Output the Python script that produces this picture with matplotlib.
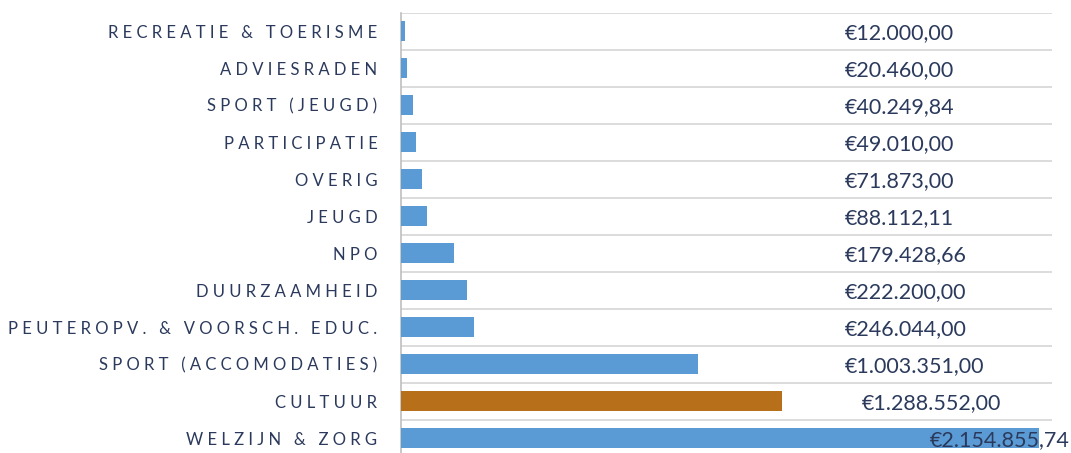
import matplotlib
matplotlib.use("Agg")
import matplotlib.pyplot as plt
from matplotlib.ticker import FixedLocator

categories = ["RECREATIE & TOERISME", "ADVIESRADEN", "SPORT (JEUGD)", "PARTICIPATIE",
              "OVERIG", "JEUGD", "NPO", "DUURZAAMHEID", "PEUTEROPV. & VOORSCH. EDUC.",
              "SPORT (ACCOMODATIES)", "CULTUUR", "WELZIJN & ZORG"]
values = [12000.00, 20460.00, 40249.84, 49010.00, 71873.00, 88112.11, 179428.66,
          222200.00, 246044.00, 1003351.00, 1288552.00, 2154855.74]
value_labels = ["€12.000,00", "€20.460,00", "€40.249,84", "€49.010,00", "€71.873,00",
                "€88.112,11", "€179.428,66", "€222.200,00", "€246.044,00",
                "€1.003.351,00", "€1.288.552,00", "€2.154.855,74"]
highlight = "CULTUUR"

# layout: left x of each value label in data units
label_left = [1.5e6] * 10 + [1.557e6, 1.787e6]

BLUE = "#5B9BD5"
ORANGE = "#B86F19"
NAVY = "#2B3A5C"

def spaced(s):
    words = s.split(" ")
    return "   ".join(" ".join(list(w)) for w in words)

fig = plt.figure(figsize=(10.71, 4.53), dpi=100)
ax = fig.add_axes([401 / 1071, -3.5 / 453, (1052 - 401) / 1071, (453 - 12.5 + 3.5) / 453])

ypos = list(range(len(categories)))
colors = [ORANGE if c == highlight else BLUE for c in categories]
ax.barh(ypos, values, height=0.55, color=colors, zorder=3)

ax.set_xlim(0, 2.2e6)
ax.set_ylim(len(categories) - 0.5, -0.5)
ax.set_yticks(ypos)
ax.set_yticklabels([spaced(c) for c in categories], fontsize=12, color=NAVY, family=["Lato", "DejaVu Sans"])
ax.tick_params(axis="y", length=0, pad=17)
ax.set_xticks([])
ax.yaxis.set_minor_locator(FixedLocator([i + 0.5 for i in range(-1, len(categories))]))
ax.tick_params(axis="y", which="minor", length=0)
ax.grid(axis="y", which="minor", color="#D9D9D9", linewidth=1.3, zorder=0)
ax.grid(axis="y", which="major", visible=False)

for s in ["top", "right", "bottom"]:
    ax.spines[s].set_visible(False)
ax.spines["left"].set_color("#BFBFBF")
ax.spines["left"].set_linewidth(1.2)

for y, lx, lab in zip(ypos, label_left, value_labels):
    ax.text(lx, y + 0.05, lab, ha="left", va="center", fontsize=15.5, color=NAVY,
            family=["Lato", "DejaVu Sans"], zorder=5)

fig.savefig("out.png", dpi=100)
